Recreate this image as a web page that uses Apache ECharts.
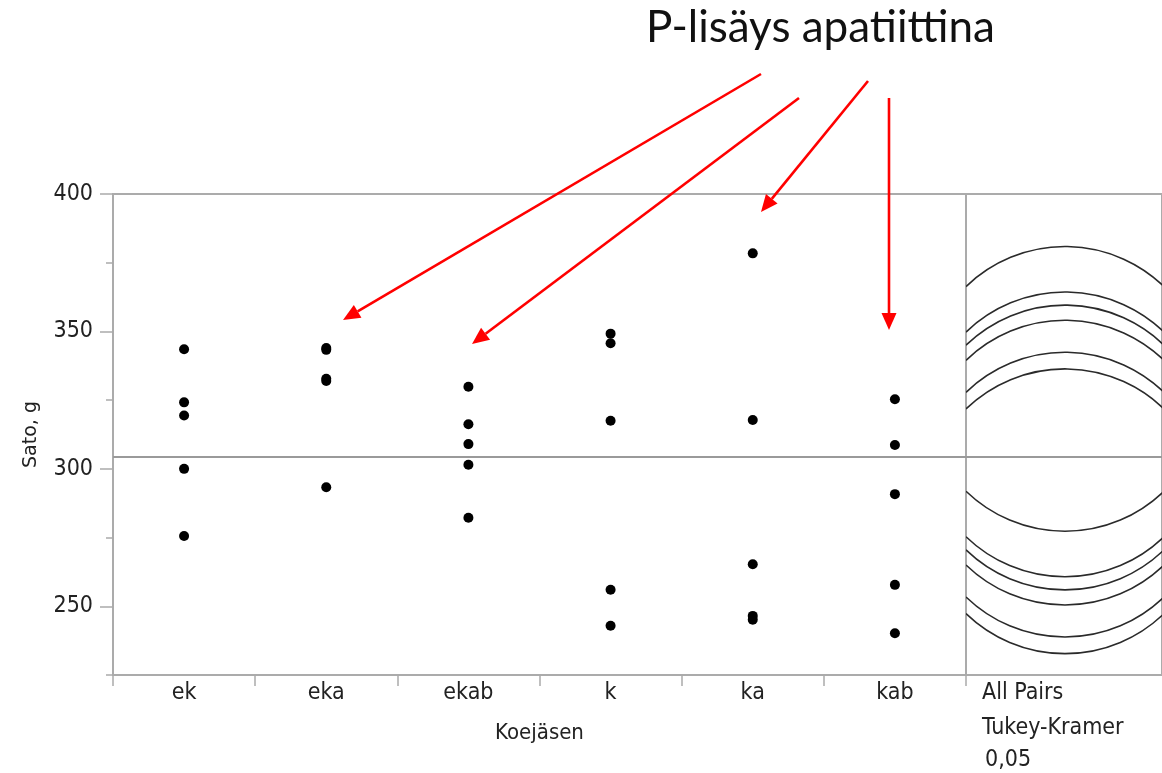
<!DOCTYPE html>
<html>
<head>
<meta charset="utf-8">
<script src="https://cdn.jsdelivr.net/npm/echarts@6/dist/echarts.min.js"></script>
<style>
  html, body { margin: 0; padding: 0; background: #fff; }
  #chart { width: 1162px; height: 773px; }
</style>
</head>
<body>
<div id="chart"></div>
<script>
// groups on the x axis
const categories = ['ek', 'eka', 'ekab', 'k', 'ka', 'kab']

// yield (Sato, g) per group
const ekValues = [343.5, 324.2, 319.4, 300.0, 275.6]
const ekaValues = [344.0, 343.3, 332.8, 332.0, 293.3]
const ekabValues = [329.9, 316.2, 309.0, 301.5, 282.2]
const kValues = [349.2, 345.7, 317.5, 256.0, 242.9]
const kaValues = [378.4, 317.8, 265.3, 246.5, 245.1]
const kabValues = [325.3, 308.7, 290.8, 257.8, 240.2]

// y axis
const yMin = 225
const yMax = 400
const yMajorTicks = [250, 300, 350, 400]
const yMinorTicks = [225, 275, 325, 375]

// Tukey-Kramer comparison circle radius (y units)
const circleRadius = 51.8

const groups = [ekValues, ekaValues, ekabValues, kValues, kaValues, kabValues]
const mean = (a) => a.reduce((s, v) => s + v, 0) / a.length
const groupMeans = groups.map(mean)
const grandMean = mean(groups.flat())

const AXIS_GRAY = '#ababab'
const TEXT = '#222'
const FONT = '"DejaVu Sans Condensed", "Open Sans", sans-serif'

const scatterData = []
groups.forEach((vals, i) => vals.forEach((v) => scatterData.push([categories[i], v])))

// comparison circle, clipped to the left edge of the panel
function renderCircle(params, api) {
  const cs = params.coordSys
  const cx = cs.x + 99
  const cy = api.coord([0, api.value(1)])[1]
  const r = api.size([0, circleRadius])[1]
  const d = (cs.x - cx) / r
  const a = d <= -1 ? Math.PI : Math.acos(d)
  return {
    type: 'arc',
    shape: { cx, cy, r, startAngle: -a, endAngle: a, clockwise: true },
    style: { fill: 'none', stroke: '#2a2a2a', lineWidth: 1.6 },
  }
}

function arrow(x1, y1, x2, y2) {
  const ang = Math.atan2(y2 - y1, x2 - x1)
  const len = 17, half = 7.5
  const bx = x2 - len * Math.cos(ang), by = y2 - len * Math.sin(ang)
  const px = -Math.sin(ang) * half, py = Math.cos(ang) * half
  return {
    type: 'group',
    children: [
      { type: 'line', shape: { x1, y1, x2: bx, y2: by }, style: { stroke: '#ff0000', lineWidth: 2.6 } },
      { type: 'polygon', shape: { points: [[x2, y2], [bx + px, by + py], [bx - px, by - py]] }, style: { fill: '#ff0000' } },
    ],
  }
}

function note(text, x, y) {
  return {
    type: 'text',
    x,
    y,
    style: { text, fontSize: 23, fontFamily: FONT, fill: TEXT, verticalAlign: 'middle' },
  }
}

const meanLine = {
  silent: true,
  animation: false,
  symbol: ['none', 'none'],
  label: { show: false },
  lineStyle: { color: '#9a9a9a', width: 2, type: 'solid' },
  data: [{ yAxis: grandMean }],
}

const chart = echarts.init(document.getElementById('chart'), null, { renderer: 'canvas' })

chart.setOption({
  animation: false,
  backgroundColor: '#fff',
  textStyle: { fontFamily: FONT },
  grid: [
    { left: 113, top: 194, width: 853, height: 481, show: true, borderColor: AXIS_GRAY, borderWidth: 2 },
    { left: 966, top: 194, width: 230, height: 481, show: true, borderColor: AXIS_GRAY, borderWidth: 2 },
  ],
  xAxis: [
    {
      type: 'category',
      gridIndex: 0,
      data: categories,
      axisLine: { lineStyle: { color: AXIS_GRAY, width: 2 } },
      axisTick: { show: true, length: 11, lineStyle: { color: AXIS_GRAY, width: 1.5 } },
      axisLabel: { color: TEXT, fontSize: 23, margin: 7, fontFamily: FONT },
      splitLine: { show: false },
      name: 'Koejäsen',
      nameLocation: 'middle',
      nameGap: 47,
      nameTextStyle: { color: TEXT, fontSize: 22, fontFamily: FONT },
    },
    { type: 'value', gridIndex: 1, min: 0, max: 1, show: false },
  ],
  yAxis: [
    {
      type: 'value',
      gridIndex: 0,
      min: yMin,
      max: yMax,
      interval: 25,
      axisLine: { show: true, lineStyle: { color: AXIS_GRAY, width: 2 } },
      axisTick: { show: true, length: 13, customValues: yMajorTicks, lineStyle: { color: AXIS_GRAY, width: 1.5 } },
      axisLabel: { color: TEXT, fontSize: 23, margin: 20, customValues: yMajorTicks, fontFamily: FONT },
      splitLine: { show: false },
      name: 'Sato, g',
      nameLocation: 'middle',
      nameGap: 72,
      nameTextStyle: { color: TEXT, fontSize: 19, fontFamily: '"DejaVu Sans", sans-serif' },
    },
    {
      type: 'value',
      gridIndex: 0,
      position: 'left',
      min: yMin,
      max: yMax,
      interval: 25,
      axisLine: { show: false },
      axisTick: { show: true, length: 7, customValues: yMinorTicks, lineStyle: { color: AXIS_GRAY, width: 1.5 } },
      axisLabel: { show: false },
      splitLine: { show: false },
    },
    { type: 'value', gridIndex: 1, min: yMin, max: yMax, show: false },
  ],
  series: [
    {
      type: 'scatter',
      xAxisIndex: 0,
      yAxisIndex: 0,
      symbol: 'circle',
      symbolSize: 10,
      itemStyle: { color: '#000', opacity: 1 },
      data: scatterData,
      markLine: meanLine,
      z: 3,
    },
    {
      type: 'custom',
      xAxisIndex: 1,
      yAxisIndex: 2,
      renderItem: renderCircle,
      data: groupMeans.map((m) => [0, m]),
      markLine: meanLine,
      clip: true,
    },
  ],
  graphic: [
    {
      type: 'text',
      left: 646,
      top: 6,
      style: { text: 'P-lisäys apatiittina', fontSize: 44, fontFamily: 'Lato, sans-serif', fill: '#111' },
    },
    note('All Pairs', 982, 693),
    note('Tukey-Kramer', 982, 728),
    note('0,05', 985, 760),
    arrow(761, 74, 343, 320),
    arrow(799, 98, 472, 344),
    arrow(868, 81, 761, 212),
    arrow(889, 98, 889, 330),
  ],
})
</script>
</body>
</html>
